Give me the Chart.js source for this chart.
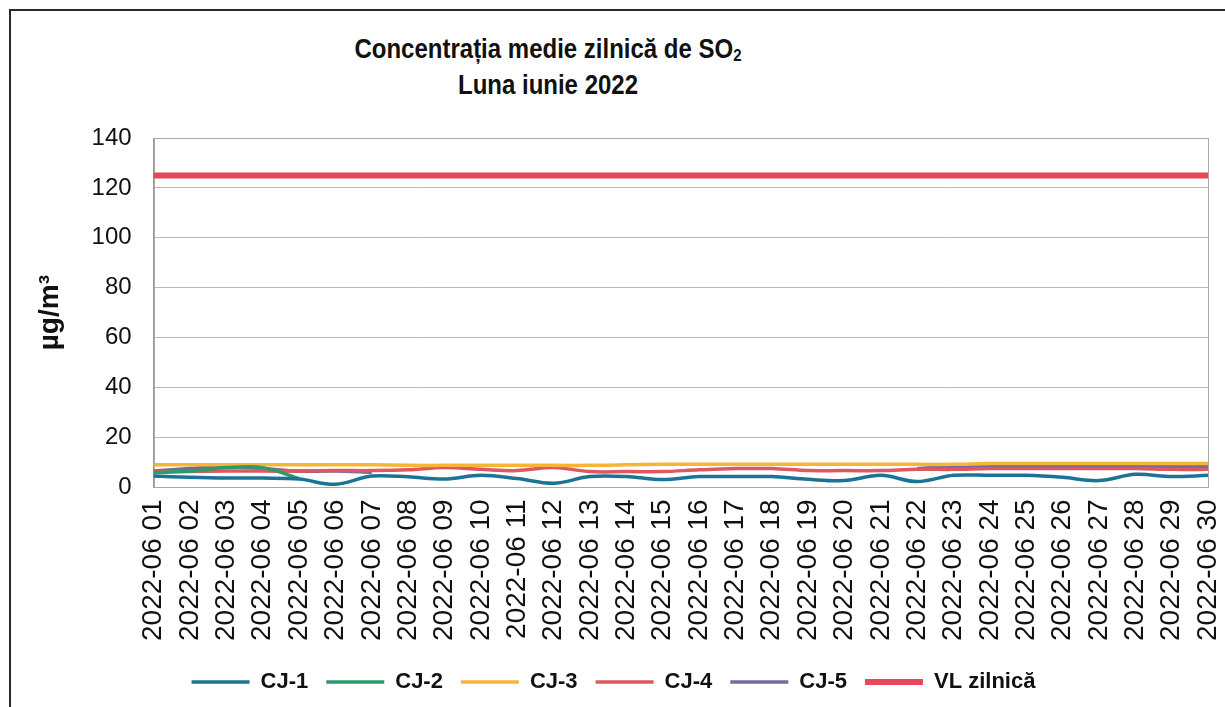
<!DOCTYPE html>
<html lang="ro">
<head>
<meta charset="UTF-8">
<title>Concentrația medie zilnică de SO2 - iunie 2022</title>
<script src="https://cdn.jsdelivr.net/npm/chart.js"></script>
<style>
  html, body { margin: 0; padding: 0; background: #fff; }
  body {
    width: 1225px; height: 707px;
    position: relative; overflow: hidden;
    font-family: 'Liberation Sans', Arial, sans-serif;
  }
  .frame {
    position: absolute; left: 9px; top: 9px; width: 1230px; height: 710px;
    border-top: 2px solid #2a2a2a; border-left: 2px solid #2a2a2a;
  }
  .title {
    position: absolute; top: 31px; left: 298px; width: 500px;
    text-align: center; font-weight: bold; font-size: 24px; line-height: 32px; color: #111;
    transform: scaleY(1.12); transform-origin: center top;
  }
  .title sub { font-size: 15px; vertical-align: -3px; line-height: 0; }
  #chart { position: absolute; left: 0; top: 0; }
</style>
</head>
<body>
<div class="frame"></div>
<div class="title">Concentrația medie zilnică de SO<sub>2</sub><br>Luna iunie 2022</div>
<canvas id="chart" width="1225" height="707"></canvas>

<script>
// zilele lunii (etichete axa X)
const days = [
  '2022-06 01', '2022-06 02', '2022-06 03', '2022-06 04', '2022-06 05',
  '2022-06 06', '2022-06 07', '2022-06 08', '2022-06 09', '2022-06 10',
  '2022-06 11', '2022-06 12', '2022-06 13', '2022-06 14', '2022-06 15',
  '2022-06 16', '2022-06 17', '2022-06 18', '2022-06 19', '2022-06 20',
  '2022-06 21', '2022-06 22', '2022-06 23', '2022-06 24', '2022-06 25',
  '2022-06 26', '2022-06 27', '2022-06 28', '2022-06 29', '2022-06 30'
];

// concentratii medii zilnice SO2, ug/m3
const cj1 = [4.5, 4.0, 3.7, 3.7, 3.3, 1.2, 4.5, 4.2, 3.3, 4.8,
             3.5, 1.6, 4.3, 4.3, 3.1, 4.3, 4.3, 4.3, 3.2, 2.7,
             4.8, 2.3, 4.8, 4.8, 4.8, 4.0, 2.7, 5.2, 4.3, 4.8];
const cj2 = [5.9, 6.5, 7.9, 7.9, 3.5, null, null, null, null, null,
             null, null, null, null, null, null, null, null, null, null,
             null, null, null, null, null, null, null, null, null, null];
const cj3 = [9.0, 9.0, 9.0, 9.0, 9.0, 9.0, 9.0, 8.8, 8.8, 8.8,
             8.8, 8.8, 8.8, 9.0, 9.2, 9.2, 9.2, 9.2, 9.2, 9.2,
             9.2, 9.2, 9.2, 9.5, 9.5, 9.5, 9.5, 9.5, 9.5, 9.5];
const cj4 = [6.3, 6.3, 6.5, 6.5, 6.5, 6.7, 6.7, 7.0, 7.9, 7.2,
             6.7, 7.9, 6.3, 6.3, 6.3, 7.0, 7.5, 7.5, 6.7, 6.7,
             6.7, 7.2, 7.2, 7.5, 7.5, 7.5, 7.5, 7.5, 7.2, 7.2];
const cj5 = [6.5, 7.5, 8.3, 7.5, 6.5, 6.5, 6.0, null, null, null,
             null, null, null, null, null, null, null, null, null, null,
             null, 7.5, 8.3, 8.3, 8.3, 8.3, 8.3, 8.3, 8.3, 8.3];
// valoarea limita zilnica
const vlZilnica = [125, 125, 125, 125, 125, 125, 125, 125, 125, 125,
                   125, 125, 125, 125, 125, 125, 125, 125, 125, 125,
                   125, 125, 125, 125, 125, 125, 125, 125, 125, 125];

const yTicks = { min: 0, max: 140, step: 20 };

const FONT = "'Liberation Sans', Arial, sans-serif";

// chenar in jurul zonei de desenare
const plotBorder = {
  id: 'plotBorder',
  beforeDatasetsDraw(chart) {
    const { ctx, chartArea: a } = chart;
    ctx.save();
    ctx.strokeStyle = '#a8a8a8';
    ctx.lineWidth = 1;
    ctx.strokeRect(Math.round(a.left) + 0.5, Math.round(a.top) + 0.5,
                   Math.round(a.right - a.left), Math.round(a.bottom - a.top));
    ctx.restore();
  }
};

function line(label, data, color, width) {
  return {
    label: label,
    data: data,
    borderColor: color,
    backgroundColor: color,
    borderWidth: width,
    pointRadius: 0,
    tension: 0.35,
    spanGaps: false
  };
}

new Chart(document.getElementById('chart'), {
  type: 'line',
  data: {
    labels: days,
    datasets: [
      line('CJ-1', cj1, '#1b7396', 3.5),
      line('CJ-2', cj2, '#2a9c6c', 3.5),
      line('CJ-3', cj3, '#f6b535', 3.5),
      line('CJ-4', cj4, '#df5861', 3.5),
      line('CJ-5', cj5, '#76699b', 3.5),
      line('VL zilnică', vlZilnica, '#e8475a', 6)
    ]
  },
  options: {
    responsive: false,
    animation: false,
    layout: { padding: { left: 2, right: 0, top: 138, bottom: 4 } },
    plugins: {
      tooltip: { enabled: false },
      legend: {
        position: 'bottom',
        labels: {
          usePointStyle: true,
          pointStyle: 'line',
          pointStyleWidth: 58,
          padding: 18,
          color: '#111',
          font: { family: FONT, size: 22, weight: 'bold' }
        }
      }
    },
    scales: {
      x: {
        grid: { display: false, drawTicks: false },
        border: { color: '#9a9a9a' },
        afterFit(scale) { scale.paddingRight = 17; },
        ticks: {
          autoSkip: false,
          maxRotation: 90,
          minRotation: 90,
          padding: 12,
          color: '#111',
          font: { family: FONT, size: 28 }
        }
      },
      y: {
        min: yTicks.min,
        max: yTicks.max,
        grid: { color: '#b8b8b8', drawTicks: false },
        border: { color: '#9a9a9a' },
        ticks: {
          stepSize: yTicks.step,
          padding: 22,
          color: '#111',
          font: { family: FONT, size: 24 }
        },
        title: {
          display: true,
          text: 'µg/m³',
          color: '#111',
          padding: { top: 31, bottom: 3 },
          font: { family: FONT, size: 28, weight: 'bold' }
        }
      }
    }
  },
  plugins: [plotBorder]
});
</script>
</body>
</html>
